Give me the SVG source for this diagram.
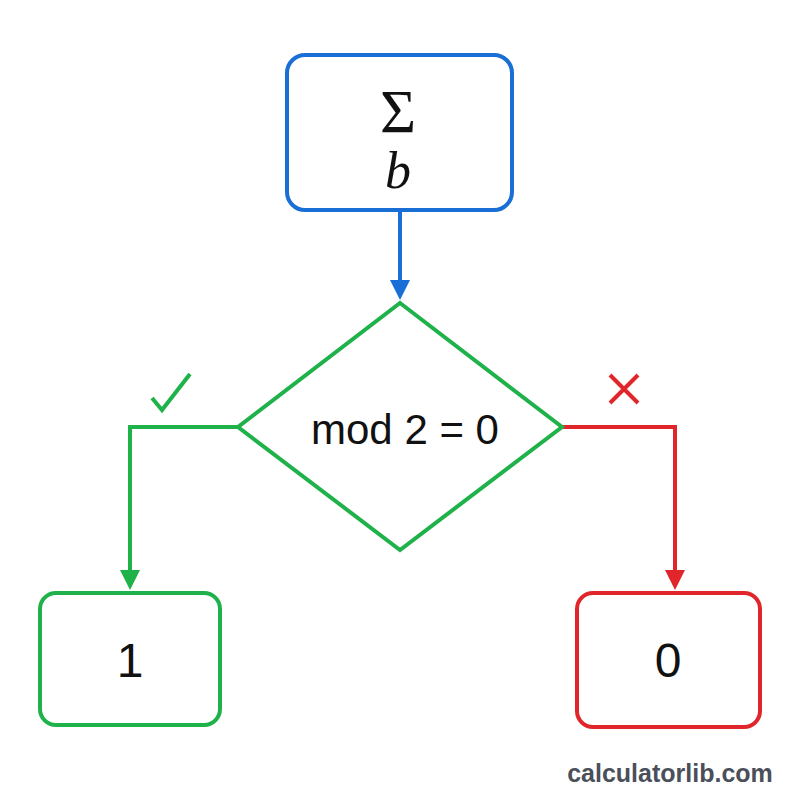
<svg xmlns="http://www.w3.org/2000/svg" width="800" height="800" viewBox="0 0 800 800">
<style>
.t{font-family:"Liberation Sans",Arial,sans-serif;fill:#111}
.g{stroke:#1fb14a;fill:none;stroke-width:4}
.r{stroke:#e0262a;fill:none;stroke-width:4}
.b{stroke:#1a6fd6;fill:none;stroke-width:4}
</style>
<defs>
<marker id="ag" viewBox="0 0 8 8" refX="6" refY="4" markerWidth="20" markerHeight="20" orient="auto" markerUnits="userSpaceOnUse"><path d="M0,0L8,4L0,8z" fill="#1fb14a"/></marker>
<marker id="ar" viewBox="0 0 8 8" refX="6" refY="4" markerWidth="20" markerHeight="20" orient="auto" markerUnits="userSpaceOnUse"><path d="M0,0L8,4L0,8z" fill="#e0262a"/></marker>
<marker id="ab2" viewBox="0 0 8 8" refX="6" refY="4" markerWidth="20" markerHeight="20" orient="auto" markerUnits="userSpaceOnUse"><path d="M0,0L8,4L0,8z" fill="#1a6fd6"/></marker>
</defs>
<rect width="800" height="800" fill="#fff"/>
<g id="connectors">
<path class="b" d="M400,210V295" marker-end="url(#ab2)"/>
<path class="g" d="M238,427H130V585" marker-end="url(#ag)"/>
<path class="r" d="M562,427H675V585" marker-end="url(#ar)"/>
<path class="g" d="M152,398L162,410L190,374"/>
<path class="r" d="M610,375L638,403M638,375L610,403"/>
</g>
<g id="sum">
<rect class="b" x="287" y="55" width="225" height="155" rx="18"/>
<text x="398" y="132" text-anchor="middle" font-family="'Liberation Serif',serif" font-size="62" fill="#111">Σ</text>
<text x="398" y="188" text-anchor="middle" font-family="'Liberation Serif',serif" font-style="italic" font-size="52" fill="#111">b</text>
</g>
<g id="decision">
<polygon class="g" points="400,303 562,427 400,550 238,427"/>
<text class="t" x="405" y="444" text-anchor="middle" font-size="42">mod 2 = 0</text>
</g>
<g id="one">
<rect class="g" x="40" y="593" width="180" height="132" rx="16"/>
<text class="t" x="130" y="677" text-anchor="middle" font-size="48">1</text>
</g>
<g id="zero">
<rect class="r" x="577" y="593" width="183" height="134" rx="16"/>
<text class="t" x="668" y="677" text-anchor="middle" font-size="48">0</text>
</g>
<text x="670" y="782" text-anchor="middle" font-family="'Liberation Sans',Arial,sans-serif" font-weight="bold" font-size="25" fill="#4a4f5a">calculatorlib.com</text>
</svg>
